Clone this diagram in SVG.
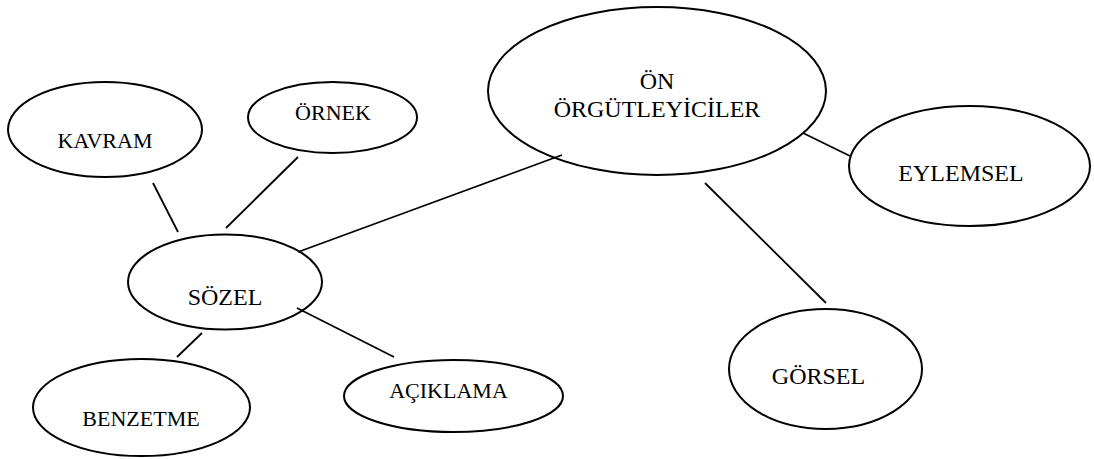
<svg xmlns="http://www.w3.org/2000/svg" width="1094" height="459" viewBox="0 0 1094 459">
<style>
.n{fill:#fff;stroke:#000;stroke-width:2}
.c line{stroke:#000;stroke-width:1.8}
text{font-family:'Liberation Serif','Times New Roman',serif;fill:#000;text-anchor:middle}
.s{font-size:22px}
.l{font-size:24px}
</style>
<rect width="1094" height="459" fill="#fff"/>
<g id="connectors" class="c">
<line x1="298" y1="252" x2="562" y2="155"/>
<line x1="803" y1="133" x2="850" y2="156"/>
<line x1="705" y1="183" x2="826" y2="303"/>
<line x1="153" y1="183" x2="178" y2="232"/>
<line x1="298" y1="157" x2="226" y2="228"/>
<line x1="297" y1="308" x2="394" y2="357"/>
<line x1="202" y1="333" x2="177" y2="357"/>
</g>
<g id="on-orgutleyiciler">
<ellipse class="n" cx="657" cy="91" rx="169" ry="84" style="fill:none"/>
<text class="l" x="657" y="89">ÖN</text>
<text class="l" x="657" y="117">ÖRGÜTLEYİCİLER</text>
</g>
<g id="kavram">
<ellipse class="n" cx="105" cy="129.5" rx="97" ry="47.5"/>
<text class="s" x="105" y="148">KAVRAM</text>
</g>
<g id="ornek">
<ellipse class="n" cx="332.5" cy="117.5" rx="84.5" ry="35.5"/>
<text class="s" x="333" y="120">ÖRNEK</text>
</g>
<g id="sozel">
<ellipse class="n" cx="225" cy="282" rx="97" ry="47.5" style="fill:none"/>
<text class="l" x="225" y="305">SÖZEL</text>
</g>
<g id="benzetme">
<ellipse class="n" cx="141.5" cy="407.5" rx="108.5" ry="48.5"/>
<text class="s" x="141" y="426">BENZETME</text>
</g>
<g id="aciklama">
<ellipse class="n" cx="453.5" cy="396" rx="109.5" ry="36"/>
<text class="s" x="448.5" y="398">AÇIKLAMA</text>
</g>
<g id="eylemsel">
<ellipse class="n" cx="969.5" cy="166" rx="120.5" ry="60"/>
<text class="l" x="961" y="181">EYLEMSEL</text>
</g>
<g id="gorsel">
<ellipse class="n" cx="825.5" cy="369" rx="96.5" ry="60"/>
<text class="l" x="818.5" y="384">GÖRSEL</text>
</g>
</svg>
